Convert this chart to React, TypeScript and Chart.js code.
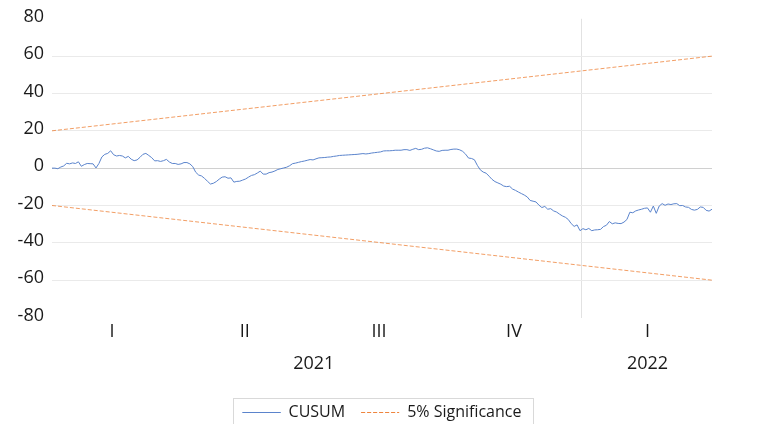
import React, { useEffect, useRef } from 'react';
import { Chart, registerables } from 'chart.js';

Chart.register(...registerables);
Chart.defaults.font.family = "'Open Sans', sans-serif";

// ---- data ----
const START_DATE = '2021-01-05';
const END_DATE = '2022-03-31';
const STEP_DAYS = 2;

const seriesLabels = ['CUSUM', '5% Significance'];

const cusum: number[] = [
  0, 0, -0.3, 0.6, 1.2, 2.6, 2.3, 2.8, 2.5, 3.4,
  1.0, 1.9, 2.5, 2.4, 2.3, 0.1, 2.5, 6.0, 7.4, 7.9,
  9.3, 7.2, 6.5, 6.8, 6.5, 5.5, 6.3, 4.8, 4.0, 4.4,
  5.8, 7.4, 7.9, 6.8, 5.6, 3.9, 4.0, 3.6, 4.0, 4.7,
  3.3, 2.5, 2.5, 2.0, 2.3, 3.0, 3.0, 2.3, 0.8, -2.2,
  -3.7, -4.2, -5.5, -7.0, -8.5, -8.1, -7.2, -5.9, -4.8, -4.6,
  -5.4, -5.2, -7.5, -7.1, -7.0, -6.4, -5.8, -4.8, -3.9, -3.5,
  -2.6, -1.6, -3.2, -3.2, -2.4, -2.1, -1.5, -0.7, -0.3, 0.1,
  0.5, 1.3, 2.4, 2.7, 3.1, 3.5, 3.8, 4.2, 4.6, 4.4,
  5.0, 5.5, 5.6, 5.7, 5.9, 6.0, 6.3, 6.5, 6.8, 6.9,
  7.0, 7.1, 7.2, 7.3, 7.4, 7.6, 7.8, 7.6, 7.8, 8.1,
  8.3, 8.5, 8.7, 9.2, 9.3, 9.3, 9.4, 9.6, 9.6, 9.6,
  9.9, 9.9, 9.5, 10.1, 10.6, 9.9, 10.1, 10.7, 10.9, 10.4,
  9.8, 9.2, 9.0, 9.5, 9.6, 9.6, 10.0, 10.2, 10.2, 9.8,
  9.0, 7.5, 5.4, 5.2, 4.5, 1.5, -0.9, -2.1, -2.7, -4.3,
  -6.0, -7.2, -7.9, -8.6, -9.6, -9.9, -9.7, -11.2, -11.9, -12.8,
  -13.6, -14.4, -15.4, -17.3, -17.7, -18.1, -19.8, -21.1, -20.5, -22.0,
  -21.7, -22.9, -23.5, -24.6, -25.6, -26.3, -27.5, -29.7, -31.2, -30.4,
  -33.5, -32.4, -33.0, -32.3, -33.5, -33.1, -33.0, -32.8, -31.3, -30.6,
  -28.6, -29.8, -29.3, -29.6, -29.7, -28.9, -27.5, -23.6, -23.9, -22.9,
  -22.4, -22.0, -21.5, -21.3, -23.6, -20.3, -24.2, -20.3, -19.0, -19.9,
  -19.2, -19.5, -19.1, -19.0, -20.1, -20.0, -20.8, -21.0, -22.1, -22.5,
  -22.1, -20.8, -21.0, -22.6, -23.0, -22.0,
];

const sigUpper = [20, 60];
const sigLower = [-20, -60];

const yMin = -80;
const yMax = 80;
const yStep = 20;

const quarterStarts = ['2021-01-01', '2021-04-01', '2021-07-01', '2021-10-01', '2022-01-01', '2022-04-01'];
const quarterLabels = ['I', 'II', 'III', 'IV', 'I'];
const yearStarts = ['2021-01-01', '2022-01-01', '2023-01-01'];
const yearLabels = ['2021', '2022'];

// ---- helpers ----
const DAY_MS = 86400000;
const t0 = Date.parse(START_DATE + 'T00:00:00Z');
const dayOf = (iso: string) => Math.round((Date.parse(iso + 'T00:00:00Z') - t0) / DAY_MS);
const lastDay = dayOf(END_DATE);

function periodCenters(starts: string[]): number[] {
  const out: number[] = [];
  for (let i = 0; i < starts.length - 1; i++) {
    const a = dayOf(starts[i]);
    const b = dayOf(starts[i + 1]);
    let c = (a + b) / 2;
    if (c > lastDay) c = (a + lastDay + 1) / 2;
    if (c < 0) c = (0 + b) / 2;
    out.push(c);
  }
  return out;
}

const quarterCenters = periodCenters(quarterStarts);
const yearCenters = periodCenters(yearStarts);
const yearBoundary = dayOf(yearStarts[1]);

const legendBorder = {
  id: 'legendBorder',
  afterDraw(chart: any) {
    const lg = chart.legend;
    if (!lg || !lg.legendHitBoxes || !lg.legendHitBoxes.length) return;
    const hb = lg.legendHitBoxes;
    const left = Math.min(...hb.map((b: any) => b.left)) - 10;
    const right = Math.max(...hb.map((b: any) => b.left + b.width)) + 11;
    const top = hb[0].top - 7;
    const ctx = chart.ctx;
    ctx.save();
    ctx.strokeStyle = '#D9D9D9';
    ctx.lineWidth = 1;
    ctx.strokeRect(Math.round(left) + 0.5, Math.round(top) + 0.5, Math.round(right - left), chart.height);
    ctx.restore();
  },
};

export default function App() {
  const ref = useRef<HTMLCanvasElement | null>(null);

  useEffect(() => {
    if (!ref.current) return;
    const sigStyle = {
      borderColor: 'rgba(237,125,49,0.75)',
      backgroundColor: 'rgba(237,125,49,0.75)',
      borderWidth: 1,
      borderDash: [4, 2],
      pointRadius: 0,
      tension: 0,
    };
    const chart = new Chart(ref.current, {
      type: 'line',
      data: {
        datasets: [
          {
            label: seriesLabels[0],
            data: cusum.map((v, i) => ({ x: i * STEP_DAYS, y: v })),
            borderColor: '#5B84CC',
            backgroundColor: '#5B84CC',
            borderWidth: 1,
            pointRadius: 0,
            tension: 0,
          },
          {
            label: seriesLabels[1],
            data: [{ x: 0, y: sigUpper[0] }, { x: lastDay, y: sigUpper[1] }],
            ...sigStyle,
          },
          {
            label: seriesLabels[1],
            data: [{ x: 0, y: sigLower[0] }, { x: lastDay, y: sigLower[1] }],
            ...sigStyle,
          },
        ],
      },
      options: {
        animation: false,
        responsive: false,
        devicePixelRatio: 1,
        events: [],
        layout: { padding: { left: 0, right: 53, top: 17.5, bottom: 9.5 } },
        plugins: {
          tooltip: { enabled: false },
          legend: {
            position: 'bottom',
            fullSize: false,
            labels: {
              filter: (item: any) => item.datasetIndex < 2,
              boxWidth: 38,
              boxHeight: 0,
              padding: 16,
              color: '#1a1a1a',
              font: { size: 16 },
            },
          },
        },
        scales: {
          x: {
            type: 'linear',
            position: 'bottom',
            min: 0,
            max: lastDay,
            grid: { display: false, drawTicks: false },
            border: { display: false },
            afterBuildTicks: (s: any) => {
              s.ticks = quarterCenters.map((v) => ({ value: v }));
            },
            afterFit: (s: any) => {
              s.height = 30;
            },
            ticks: {
              autoSkip: false,
              maxRotation: 0,
              padding: 4,
              color: '#1a1a1a',
              font: { size: 18 },
              callback: (_v: any, i: number) => quarterLabels[i],
            },
          },
          x2: {
            type: 'linear',
            position: 'bottom',
            weight: 1,
            min: 0,
            max: lastDay,
            grid: {
              display: true,
              drawTicks: false,
              drawOnChartArea: true,
              color: (ctx: any) => (ctx.tick && ctx.tick.value === yearBoundary ? '#E2E2E2' : 'rgba(0,0,0,0)'),
            },
            border: { display: false },
            afterBuildTicks: (s: any) => {
              const vals = [...yearCenters, yearBoundary].sort((a, b) => a - b);
              s.ticks = vals.map((v) => ({ value: v }));
            },
            afterFit: (s: any) => {
              s.height = 41;
            },
            ticks: {
              autoSkip: false,
              maxRotation: 0,
              padding: 6,
              color: '#1a1a1a',
              font: { size: 18 },
              callback: (v: any) => {
                const k = yearCenters.indexOf(v);
                return k >= 0 ? yearLabels[k] : '';
              },
            },
          },
          y: {
            min: yMin,
            max: yMax,
            grid: {
              drawTicks: false,
              color: (ctx: any) => {
                const v = ctx.tick ? ctx.tick.value : null;
                if (v === 0) return '#D0D0D0';
                if (v === yMin || v === yMax) return 'rgba(0,0,0,0)';
                return '#EAEAEA';
              },
            },
            border: { display: false },
            afterFit: (s: any) => {
              s.width = 52;
            },
            ticks: {
              stepSize: yStep,
              padding: 8,
              labelOffset: -2,
              color: '#1a1a1a',
              font: { size: 18 },
            },
          },
        },
      },
      plugins: [legendBorder],
    } as any);
    return () => chart.destroy();
  }, []);

  return (
    <div style={{ position: 'fixed', left: 0, top: 0, width: 765, height: 424, overflow: 'hidden', background: '#fff' }}>
      <canvas ref={ref} width={765} height={440} style={{ display: 'block', width: 765, height: 440 }} />
    </div>
  );
}
